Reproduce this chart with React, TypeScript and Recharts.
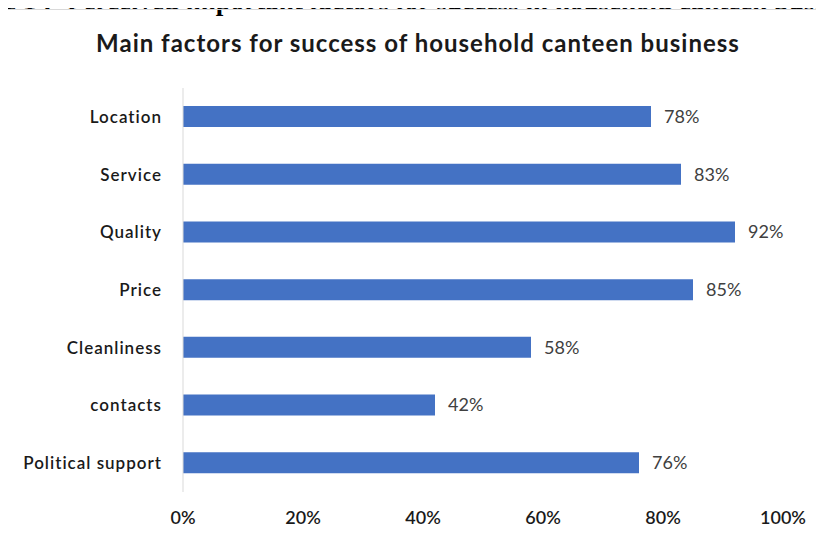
import { BarChart, Bar, XAxis, YAxis, LabelList } from "recharts";

const factors = ["Location", "Service", "Quality", "Price", "Cleanliness", "contacts", "Political support"];
const shares = [78, 83, 92, 85, 58, 42, 76];
const xTicks = [0, 20, 40, 60, 80, 100];

const chartData = factors.map((factor, i) => ({ factor, share: shares[i] }));

const FONT = "Lato, 'Open Sans', sans-serif";

const captionStyle = {
  position: "absolute" as const,
  top: -12,
  whiteSpace: "nowrap" as const,
  fontFamily: "'Liberation Serif', 'Times New Roman', serif",
  fontWeight: "bold" as const,
  fontSize: 27,
  lineHeight: "27px",
  color: "#000",
};

export default function App() {
  return (
    <div style={{ position: "relative", margin: -8, width: 824, height: 540, overflow: "hidden", background: "#fff" }}>
      {/* caption of the figure, cut off by the top edge */}
      <span style={{ ...captionStyle, right: 772 }}>Figure 1 :</span>
      <span style={{ ...captionStyle, left: 67 }}>
        Perceived important factors for success in household canteen business
      </span>
      <div
        style={{
          position: "absolute",
          left: 7,
          top: 9,
          width: 840,
          height: 560,
          border: "1px solid #d9d9d9",
        }}
      />
      <div
        style={{
          position: "absolute",
          left: 0,
          top: 28,
          width: 824,
          textAlign: "center",
          fontFamily: FONT,
          fontWeight: "bold",
          fontSize: 24,
          letterSpacing: 1,
          color: "#1a1a1a",
          paddingLeft: 12,
          boxSizing: "border-box",
        }}
      >
        Main factors for success of household canteen business
      </div>
      <div style={{ position: "absolute", left: 0, top: 0 }}>
        <BarChart
          width={824}
          height={540}
          data={chartData}
          layout="vertical"
          margin={{ top: 88, right: 41, bottom: 10, left: 0 }}
          barCategoryGap={0}
        >
          <XAxis
            type="number"
            domain={[0, 100]}
            ticks={xTicks}
            tickFormatter={(v: number) => `${v}%`}
            axisLine={false}
            tickLine={false}
            tickMargin={13}
            height={38}
            tick={{ fill: "#1a1a1a", fontSize: 18, fontFamily: FONT, fontWeight: 600 }}
          />
          <YAxis
            type="category"
            dataKey="factor"
            width={183}
            axisLine={{ stroke: "#d9d9d9" }}
            tickLine={false}
            tickMargin={15}
            tick={{ fill: "#1a1a1a", fontSize: 17, fontFamily: FONT, fontWeight: 600, letterSpacing: 1 }}
          />
          <Bar dataKey="share" fill="#4472C4" barSize={21} isAnimationActive={false}>
            <LabelList
              dataKey="share"
              position="right"
              offset={13}
              formatter={(v: number) => `${v}%`}
              style={{ fill: "#404040", fontSize: 18, fontFamily: FONT }}
            />
          </Bar>
        </BarChart>
      </div>
    </div>
  );
}
